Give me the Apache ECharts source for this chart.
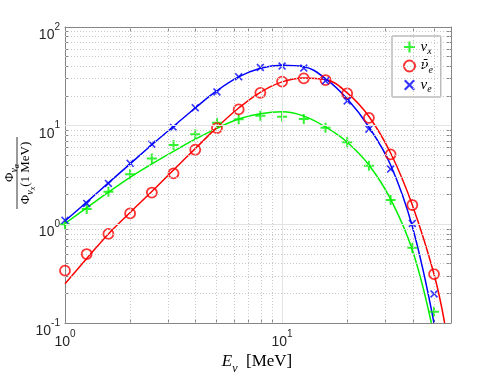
<!DOCTYPE html>
<html>
<head>
<meta charset="utf-8">
<script src="https://cdn.jsdelivr.net/npm/echarts@6/dist/echarts.min.js"></script>
<style>
html, body { margin: 0; padding: 0; background: #fff; }
#chart { width: 498px; height: 374px; }
</style>
</head>
<body>
<div id="chart"></div>
<script>
// neutrino energies (MeV), 10 per decade
var energy = [1, 1.259, 1.585, 1.995, 2.512, 3.162, 3.981, 5.012, 6.31, 7.943, 10, 12.59, 15.85, 19.95, 25.12, 31.62, 39.81, 50.12];

// simulated points (markers)
var nuxPts = [1.0, 1.43, 2.14, 3.21, 4.66, 6.36, 8.2, 10.7, 11.6, 12.6, 12.3, 11.7, 9.5, 6.78, 3.92, 1.76, 0.58, 0.13];
var antiNuePts = [0.339, 0.5, 0.8, 1.29, 2.1, 3.29, 5.7, 9.45, 14.6, 21.5, 27.9, 30.1, 29, 21.2, 12, 5.12, 1.57, 0.313];
var nuePts = [1.1, 1.63, 2.6, 4.15, 6.5, 9.6, 15.2, 22, 31.3, 38.9, 40.2, 38.3, 28.5, 17.8, 9.2, 3.63, 1.02, 0.197];

// fitted curves
var nuxFitE = [1, 1.259, 1.585, 1.995, 2.512, 3.162, 3.981, 5.012, 6.31, 7.943, 10, 12.59, 15.85, 19.95, 25.12, 31.62, 39.81, 48.7];
var nuxFit = [1.02, 1.47, 2.12, 3.0, 4.1, 5.5, 7.3, 9.4, 11.7, 13.2, 13.8, 12.5, 9.7, 6.8, 4.0, 1.8, 0.55, 0.1];
var antiNueFitE = [1, 1.259, 1.585, 1.995, 2.512, 3.162, 3.981, 5.012, 6.31, 7.943, 10, 12.59, 15.85, 19.95, 25.12, 31.62, 39.81, 50.12, 56.1];
var antiNueFit = [0.25, 0.45, 0.8, 1.32, 2.15, 3.55, 5.85, 9.6, 15.1, 21.8, 27.8, 30.5, 29.4, 21.5, 12.4, 5.28, 1.57, 0.312, 0.1];
var nueFitE = [1, 1.259, 1.585, 1.995, 2.512, 3.162, 3.981, 5.012, 6.31, 7.943, 10, 12.59, 15.85, 19.95, 25.12, 31.62, 39.81, 50.1];
var nueFit = [1.08, 1.68, 2.63, 4.1, 6.4, 9.85, 15.1, 22.6, 31.2, 38.2, 41, 39.6, 30, 18.7, 9.7, 4.0, 0.95, 0.1];

// ticks and grid
var xTicks = [1, 2, 3, 4, 5, 6, 7, 8, 9, 10, 20, 30, 40, 50];
var xLabels = [1, 10];
var xMinorGrid = [2, 3, 4, 5, 6, 7, 8, 9, 20, 30, 40, 50];
var xMajorGrid = [10];
var yTicks = [0.1, 0.2, 0.3, 0.4, 0.5, 0.6, 0.7, 0.8, 0.9, 1, 2, 3, 4, 5, 6, 7, 8, 9, 10, 20, 30, 40, 50, 60, 70, 80, 90, 100];
var yLabels = [0.1, 1, 10, 100];
var yMinorGrid = [0.2, 0.3, 0.4, 0.5, 0.6, 0.7, 0.8, 0.9, 2, 3, 4, 5, 6, 7, 8, 9, 20, 30, 40, 50, 60, 70, 80, 90];
var yMajorGrid = [1, 10];

var GREEN = '#00f000', RED = '#ff0000', BLUE = '#0000ff';
var plusPath = 'path://M4,0H6V4H10V6H6V10H4V6H0V4H4Z';
var crossPath = 'path://M0,1.4L1.4,0L5,3.6L8.6,0L10,1.4L6.4,5L10,8.6L8.6,10L5,6.4L1.4,10L0,8.6L3.6,5Z';

function pairs(xs, ys) {
    return xs.map(function (x, i) { return [x, ys[i]]; });
}

var serif = 'Liberation Serif';
var sans = 'Liberation Sans';
var powRich = {
    b: { fontFamily: sans, fontSize: 14, color: '#262626', lineHeight: 14, padding: [8, 0, 0, 0], verticalAlign: 'top' },
    s: { fontFamily: sans, fontSize: 10, color: '#262626', lineHeight: 11, padding: [2, 0, 0, 0], verticalAlign: 'top' }
};
function powLabel(v) {
    return '{b|10}{s|' + Math.round(Math.log10(v)) + '}';
}

var axisColor = '#858585';
var fracRich = {
    p: { fontFamily: serif, fontSize: 13, lineHeight: 13, verticalAlign: 'top' },
    s: { fontFamily: serif, fontStyle: 'italic', fontSize: 10, lineHeight: 10, padding: [6, 0, 0, 0], verticalAlign: 'top' },
    t: { fontFamily: serif, fontStyle: 'italic', fontSize: 8, lineHeight: 8, padding: [10, 0, 0, 0], verticalAlign: 'top' }
};

var chart = echarts.init(document.getElementById('chart'));
chart.setOption({
    animation: false,
    backgroundColor: '#fff',
    grid: { left: 65, top: 27, width: 386, height: 296 },
    xAxis: [
        {
            type: 'log', min: 1, max: 60,
            axisLine: { lineStyle: { color: axisColor, width: 1 } },
            axisTick: { inside: true, length: 4, customValues: xTicks, lineStyle: { color: axisColor } },
            axisLabel: { customValues: xLabels, formatter: powLabel, rich: powRich, margin: 4 },
            splitLine: { show: false }
        },
        {
            type: 'log', min: 1, max: 60, position: 'top',
            axisLine: { lineStyle: { color: axisColor, width: 1 } },
            axisTick: { inside: true, length: 4, customValues: xTicks, lineStyle: { color: axisColor } },
            axisLabel: { show: false },
            splitLine: { show: false }
        }
    ],
    yAxis: [
        {
            type: 'log', min: 0.1, max: 100,
            axisLine: { show: true, lineStyle: { color: axisColor, width: 1 } },
            axisTick: { show: true, inside: true, length: 4, customValues: yTicks, lineStyle: { color: axisColor } },
            axisLabel: { customValues: yLabels, formatter: powLabel, rich: powRich, margin: 5 },
            splitLine: { show: false }
        },
        {
            type: 'log', min: 0.1, max: 100, position: 'right',
            axisLine: { show: true, lineStyle: { color: axisColor, width: 1 } },
            axisTick: { show: true, inside: true, length: 4, customValues: yTicks, lineStyle: { color: axisColor } },
            axisLabel: { show: false },
            splitLine: { show: false }
        }
    ],
    legend: {
        orient: 'vertical',
        left: 392, top: 36,
        padding: [4, 8, 3, 11],
        itemWidth: 12, itemHeight: 11, itemGap: 3,
        backgroundColor: '#fff',
        borderColor: '#9a9a9a', borderWidth: 1, borderRadius: 0,
        data: ['nux', 'anue', 'nue'],
        formatter: function (name) {
            var sym = { nux: '{n|ν}{s|x}', anue: '{m|ν̄}{s|e}', nue: '{n|ν}{s|e}' };
            return sym[name];
        },
        textStyle: {
            rich: {
                n: { fontFamily: serif, fontStyle: 'italic', fontSize: 15, color: '#000', lineHeight: 14, verticalAlign: 'top' },
                m: { fontFamily: 'DejaVu Serif', fontStyle: 'italic', fontSize: 13, color: '#000', lineHeight: 14, verticalAlign: 'top' },
                s: { fontFamily: serif, fontStyle: 'italic', fontSize: 10, color: '#000', lineHeight: 9, padding: [6, 0, 0, 0], verticalAlign: 'top' }
            }
        }
    },
    graphic: [
        {
            type: 'group', x: 17, y: 173, rotation: Math.PI / 2,
            children: [
                {
                    type: 'text', x: 0, y: -1,
                    style: { text: '{p|Φ}{s|ν}{t|α}', align: 'center', verticalAlign: 'bottom', rich: fracRich }
                },
                {
                    type: 'line', shape: { x1: -36, y1: 0, x2: 36, y2: 0 },
                    style: { stroke: '#000', lineWidth: 0.8 }
                },
                {
                    type: 'text', x: 0, y: 2,
                    style: { text: '{p|Φ}{s|ν}{t|x}{p|(1 MeV)}', align: 'center', verticalAlign: 'top', rich: fracRich }
                }
            ]
        },
        {
            type: 'text', x: 257, y: 362,
            style: {
                text: '{e|E}{s|ν}{p|  [MeV]}',
                align: 'center', verticalAlign: 'middle',
                rich: {
                    e: { fontFamily: serif, fontStyle: 'italic', fontSize: 17, lineHeight: 17, verticalAlign: 'top' },
                    s: { fontFamily: serif, fontStyle: 'italic', fontSize: 12, lineHeight: 12, padding: [9, 0, 0, 0], verticalAlign: 'top' },
                    p: { fontFamily: serif, fontSize: 17, lineHeight: 17, verticalAlign: 'top' }
                }
            }
        }
    ],
    series: [
        {
            // grid lines
            name: 'grid', type: 'line', data: [[1, 1]], showSymbol: false, silent: true, z: 1,
            lineStyle: { opacity: 0 },
            markLine: {
                silent: true, symbol: ['none', 'none'], label: { show: false }, animation: false,
                data: xMinorGrid.map(function (v) { return { xAxis: v, lineStyle: { color: '#c8c8c8', type: [1, 2], width: 1 } }; })
                    .concat(yMinorGrid.map(function (v) { return { yAxis: v, lineStyle: { color: '#c8c8c8', type: [1, 2], width: 1 } }; }))
                    .concat(xMajorGrid.map(function (v) { return { xAxis: v, lineStyle: { color: '#e3e3e3', type: 'solid', width: 1 } }; }))
                    .concat(yMajorGrid.map(function (v) { return { yAxis: v, lineStyle: { color: '#e3e3e3', type: 'solid', width: 1 } }; }))
            }
        },
        {
            name: 'nuxFit', type: 'line', data: pairs(nuxFitE, nuxFit), showSymbol: false, smooth: 0.4, z: 3,
            lineStyle: { color: GREEN, width: 1.5 }
        },
        {
            name: 'anueFit', type: 'line', data: pairs(antiNueFitE, antiNueFit), showSymbol: false, smooth: 0.4, z: 3,
            lineStyle: { color: RED, width: 1.5 }
        },
        {
            name: 'nueFit', type: 'line', data: pairs(nueFitE, nueFit), showSymbol: false, smooth: 0.4, z: 3,
            lineStyle: { color: BLUE, width: 1.5 }
        },
        {
            name: 'nux', type: 'scatter', data: pairs(energy, nuxPts), z: 4,
            symbol: plusPath, symbolSize: 10,
            itemStyle: { color: GREEN }
        },
        {
            name: 'anue', type: 'scatter', data: pairs(energy, antiNuePts), z: 4,
            symbol: 'circle', symbolSize: 10,
            itemStyle: { color: 'rgba(0,0,0,0)', borderColor: RED, borderWidth: 1.8 }
        },
        {
            name: 'nue', type: 'scatter', data: pairs(energy, nuePts), z: 4,
            symbol: crossPath, symbolSize: 8,
            itemStyle: { color: BLUE }
        }
    ]
});
</script>
</body>
</html>
